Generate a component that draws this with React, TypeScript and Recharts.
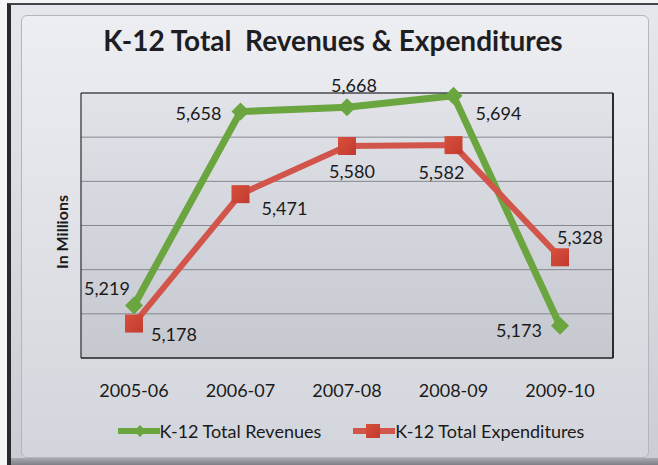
import React from "react";
import {
  LineChart,
  Line,
  XAxis,
  YAxis,
  CartesianGrid,
  LabelList,
  Legend,
} from "recharts";

const years = ["2005-06", "2006-07", "2007-08", "2008-09", "2009-10"];
const revenues = [5219, 5658, 5668, 5694, 5173];
const expenditures = [5178, 5471, 5580, 5582, 5328];
const yTicks = [5100, 5200, 5300, 5400, 5500, 5600, 5700];

const data = years.map((year, i) => ({
  year,
  revenues: revenues[i],
  expenditures: expenditures[i],
}));

const GREEN = "#6BA53F";
const RED = "#D2554B";
const FONT = "Lato, 'Open Sans', sans-serif";
const BORDER = "#2c2c30";

// label offsets (dx, dy) from each point, per series
const revOffsets = [
  [-27, -17],
  [-42, 1],
  [7, -22],
  [45, 17],
  [-41, 4],
];
const expOffsets = [
  [40, 10],
  [44, 14],
  [5, 25],
  [-12, 27],
  [20, -20],
];

const makeLabel =
  (offsets: number[][]) =>
  (props: any) => {
    const { x, y, value, index } = props;
    const [dx, dy] = offsets[index] || [0, 0];
    return (
      <text
        x={x + dx}
        y={y + dy}
        textAnchor="middle"
        dominantBaseline="central"
        fill="#1a1a1a"
        fontSize={18}
        fontFamily={FONT}
      >
        {Number(value).toLocaleString("en-US")}
      </text>
    );
  };

const Diamond = (props: any) => {
  const { cx, cy, r = 8 } = props;
  if (cx == null || cy == null) return null;
  return (
    <polygon
      points={`${cx},${cy - r} ${cx + r},${cy} ${cx},${cy + r} ${cx - r},${cy}`}
      fill={GREEN}
    />
  );
};

const Square = (props: any) => {
  const { cx, cy, s = 18 } = props;
  if (cx == null || cy == null) return null;
  return (
    <rect
      x={cx - s / 2}
      y={cy - s / 2}
      width={s}
      height={s}
      fill="url(#sqGrad)"
    />
  );
};

// y ticks are only used for the grid; the reference shows no tick labels
const NoTick = () => <g />;

const LegendContent = () => (
  <div
    style={{
      display: "flex",
      justifyContent: "center",
      alignItems: "center",
      fontFamily: FONT,
      fontSize: 18,
      color: "#1a1a1a",
      paddingLeft: 44,
    }}
  >
    <svg width={42} height={16}>
      <line x1={0} y1={8} x2={42} y2={8} stroke={GREEN} strokeWidth={6} />
      <Diamond cx={22} cy={8} r={6} />
    </svg>
    <span style={{ marginRight: 32 }}>K-12 Total Revenues</span>
    <svg width={42} height={16}>
      <line x1={0} y1={8} x2={42} y2={8} stroke={RED} strokeWidth={6} />
      <Square cx={20} cy={8} s={14} />
    </svg>
    <span>K-12 Total Expenditures</span>
  </div>
);

export default function App() {
  return (
    <div
      style={{
        position: "absolute",
        left: 0,
        top: 0,
        width: 658,
        height: 465,
        background: "#f4f5f7",
        overflow: "hidden",
      }}
    >
      <div
        style={{
          position: "absolute",
          left: 7,
          top: 3,
          width: 651,
          height: 462,
          boxSizing: "border-box",
          borderLeft: "4px solid #2a2a2e",
          borderTop: "2px solid #44454b",
          background: "linear-gradient(#e6e7ec, #cbcdd4)",
        }}
      />
      <div
        style={{
          position: "absolute",
          left: 21,
          top: 15,
          width: 626,
          height: 441,
          border: "1px solid #b4b6be",
          borderRadius: 6,
          background: "linear-gradient(#eceef2, #d3d5dc)",
        }}
      />
      <div
        style={{
          position: "absolute",
          left: 11,
          top: 458,
          width: 647,
          height: 7,
          background: "linear-gradient(#a8aab1, #7e8087)",
        }}
      />
      <div
        style={{
          position: "absolute",
          left: 0,
          top: 23,
          width: 666,
          textAlign: "center",
          fontFamily: FONT,
          fontWeight: 700,
          fontSize: 28,
          color: "#1e1e22",
        }}
      >
        K-12 Total&nbsp; Revenues &amp; Expenditures
      </div>
      <div
        style={{
          position: "absolute",
          left: 2,
          top: 222,
          width: 120,
          height: 20,
          transform: "rotate(-90deg)",
          transformOrigin: "60px 10px",
          textAlign: "center",
          fontFamily: FONT,
          fontWeight: 700,
          fontSize: 16,
          color: "#1a1a1a",
          lineHeight: "20px",
        }}
      >
        In Millions
      </div>
      <div style={{ position: "absolute", left: 0, top: 0 }}>
        <LineChart
          width={658}
          height={465}
          data={data}
          margin={{ top: 92, right: 44, left: 80, bottom: 47 }}
        >
          <defs>
            <linearGradient id="plotGrad" x1="0" y1="0" x2="0" y2="1">
              <stop offset="0%" stopColor="#e1e3e9" />
              <stop offset="100%" stopColor="#c6c8d0" />
            </linearGradient>
            <linearGradient id="sqGrad" x1="0" y1="0" x2="1" y2="1">
              <stop offset="0%" stopColor="#d9503a" />
              <stop offset="100%" stopColor="#c03a30" />
            </linearGradient>
          </defs>
          <CartesianGrid
            vertical={false}
            stroke="#86878f"
            strokeWidth={1}
            fill="url(#plotGrad)"
            fillOpacity={1}
          />
          <XAxis
            dataKey="year"
            height={30}
            padding={{ left: 53, right: 53 }}
            axisLine={{ stroke: BORDER, strokeWidth: 1.5 }}
            tickLine={false}
            tick={{ fill: "#1a1a1a", fontSize: 18, fontFamily: FONT }}
            tickMargin={20}
            interval={0}
          />
          <XAxis
            xAxisId="top"
            orientation="top"
            dataKey="year"
            height={1}
            padding={{ left: 53, right: 53 }}
            axisLine={{ stroke: BORDER, strokeWidth: 1.2 }}
            tickLine={false}
            tick={false}
          />
          <YAxis
            domain={[5100, 5700]}
            ticks={yTicks}
            width={1}
            axisLine={{ stroke: BORDER, strokeWidth: 1.2 }}
            tickLine={false}
            tick={NoTick}
          />
          <YAxis
            yAxisId="right"
            orientation="right"
            domain={[5100, 5700]}
            ticks={yTicks}
            width={1}
            axisLine={{ stroke: BORDER, strokeWidth: 2 }}
            tickLine={false}
            tick={false}
          />
          <Legend
            verticalAlign="bottom"
            height={30}
            wrapperStyle={{ top: 420, left: 0, width: 658 }}
            content={<LegendContent />}
          />
          <Line
            dataKey="revenues"
            stroke={GREEN}
            strokeWidth={7}
            dot={<Diamond r={9} />}
            activeDot={false}
            isAnimationActive={false}
          >
            <LabelList dataKey="revenues" content={makeLabel(revOffsets)} />
          </Line>
          <Line
            dataKey="expenditures"
            stroke={RED}
            strokeWidth={6}
            dot={<Square s={18} />}
            activeDot={false}
            isAnimationActive={false}
          >
            <LabelList dataKey="expenditures" content={makeLabel(expOffsets)} />
          </Line>
        </LineChart>
      </div>
    </div>
  );
}
